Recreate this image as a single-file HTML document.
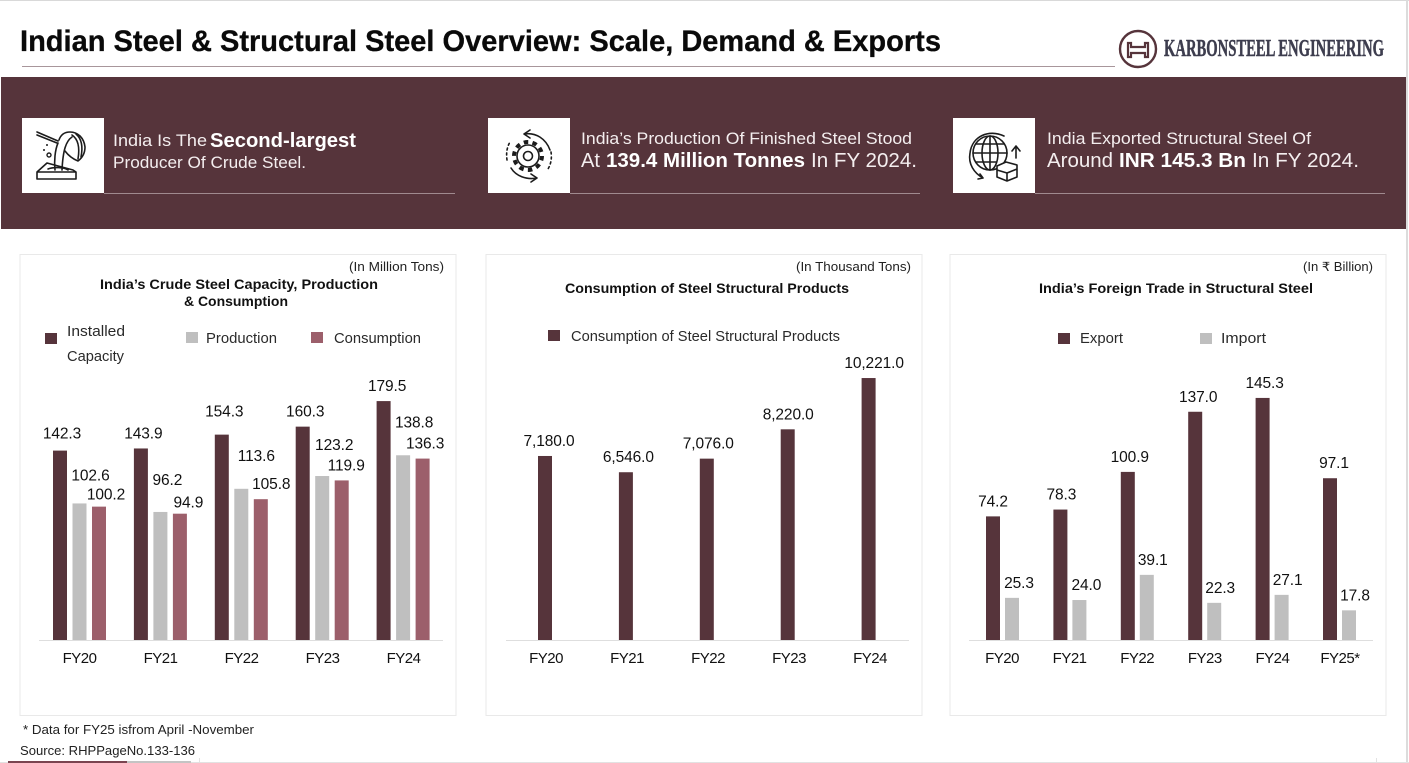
<!DOCTYPE html>
<html lang="en">
<head>
<meta charset="utf-8">
<title>Indian Steel &amp; Structural Steel Overview</title>
<style>
html,body{margin:0;padding:0;background:#fff;width:1409px;height:763px;overflow:hidden}
svg{display:block;font-family:"Liberation Sans",sans-serif}
.bn{fill:#f4eeef;font-size:17px}
.bb{fill:#fff;font-size:20px;font-weight:700}
.bl{fill:#f4eeef;font-size:20px}
.unit{fill:#222;font-size:12.5px}
.ct{fill:#111;font-size:14px;font-weight:700}
.lg{fill:#2a2a2a;font-size:15px}
.ic{fill:none;stroke:#1c1c1c;stroke-width:1.6;stroke-linecap:round;stroke-linejoin:round}
</style>
</head>
<body>
<svg id="page" xmlns="http://www.w3.org/2000/svg" width="1409" height="763" viewBox="0 0 1409 763">
  <rect x="0" y="0" width="1409" height="1" fill="#d9d9d9"/>
  <rect x="1406" y="0" width="2" height="763" fill="#dcdcdc"/>

  <text x="20" y="51" font-size="30" font-weight="700" fill="#0a0a0a" stroke="#0a0a0a" stroke-width="0.3" textLength="921" lengthAdjust="spacingAndGlyphs">Indian Steel &amp; Structural Steel Overview: Scale, Demand &amp; Exports</text>
  <rect x="22" y="66" width="1093" height="1" fill="#a8969b"/>

  <g>
    <circle cx="1138" cy="49" r="18" fill="none" stroke="#56343b" stroke-width="2.4"/>
    <path d="M1128 43h3v4h14v-4h3v14h-3v-4h-14v4h-3z" fill="#fff" stroke="#56343b" stroke-width="2.2"/>
    <text x="1164" y="56" font-family="'Liberation Serif',serif" font-size="24" font-weight="700" fill="#3d3d4e" stroke="#3d3d4e" stroke-width="0.5" textLength="220" lengthAdjust="spacingAndGlyphs">KARBONSTEEL ENGINEERING</text>
  </g>

  <rect x="1" y="77" width="1405" height="152" fill="#56343b"/>

  <g>
    <rect x="22" y="118" width="82" height="75" fill="#fff"/>
    <g class="ic">
      <path d="M37 132l21 9M37 135l20 8"/>
      <path d="M59 140c2-6 6-8 11-8 8 0 14 6 15 15 0 6-3 11-7 14-5-2-10-6-13-10"/>
      <path d="M72 135c6 4 8 12 6 24M76 134c6 5 7 13 5 23"/>
      <path d="M58 143c-3 7-4 18-3 27M72 137c-6 4-9 13-10 33"/>
      <path d="M37 172l10-9 26 7 3 2v7H37zM37 172h39M48 169c5-2 16-2 20 1"/>
    </g>
    <circle cx="49" cy="155" r="2" fill="none" stroke="#1c1c1c" stroke-width="1.4"/>
    <circle cx="44" cy="150" r="1" fill="#1c1c1c"/>
    <circle cx="47" cy="145" r="1" fill="#1c1c1c"/>
    <rect x="104" y="193" width="351" height="1" fill="#a08a8f"/>
    <text class="bn" x="113" y="146" textLength="94" lengthAdjust="spacingAndGlyphs">India Is The</text>
    <text class="bb" x="210" y="147" textLength="146" lengthAdjust="spacingAndGlyphs">Second-largest</text>
    <text class="bn" x="113" y="168" textLength="193" lengthAdjust="spacingAndGlyphs">Producer Of Crude Steel.</text>
  </g>

  <g>
    <rect x="488" y="118" width="82" height="75" fill="#fff"/>
    <g class="ic">
      <circle cx="528" cy="156" r="4.5"/>
      <circle cx="528" cy="156" r="11"/>
      <circle cx="528" cy="156" r="14" stroke-width="4" stroke-dasharray="4.5 4.3" stroke-linecap="butt"/>
      <path d="M524 134c12-2 22 5 26 16M511 168c5 8 15 12 26 10M524 134l6-4M524 134l6 4M537 178l-6-4M537 178l-6 4"/>
      <path d="M507 160c-1-7 0-13 3-18M551 152c1 6 0 12-3 17" stroke-dasharray="2 3"/>
    </g>
    <rect x="570" y="193" width="350" height="1" fill="#a08a8f"/>
    <text class="bn" x="581" y="144" textLength="331" lengthAdjust="spacingAndGlyphs">India’s Production Of Finished Steel Stood</text>
    <text class="bl" x="581" y="167" textLength="19" lengthAdjust="spacingAndGlyphs">At</text>
    <text class="bb" x="606" y="167" textLength="199" lengthAdjust="spacingAndGlyphs">139.4 Million Tonnes</text>
    <text class="bl" x="811" y="167" textLength="106" lengthAdjust="spacingAndGlyphs">In FY 2024.</text>
  </g>

  <g>
    <rect x="953" y="118" width="82" height="75" fill="#fff"/>
    <g class="ic">
      <circle cx="990" cy="153" r="17"/>
      <ellipse cx="990" cy="153" rx="8" ry="17"/>
      <path d="M990 136v34M973 153h34M976 144h28M976 162h20"/>
      <path d="M1004 136c-15-7-32 0-34 17-2 11 4 20 13 25M983 178l-3-4M983 178l-5 1"/>
      <path d="M997 166l9-4 11 3v12l-10 4-10-4zM997 170l10 3 10-4M1007 173v8" fill="#fff"/>
      <path d="M1016 158v-11M1012 151l4-5 4 5"/>
    </g>
    <rect x="1035" y="193" width="350" height="1" fill="#a08a8f"/>
    <text class="bn" x="1047" y="144" textLength="264" lengthAdjust="spacingAndGlyphs">India Exported Structural Steel Of</text>
    <text class="bl" x="1047" y="167" textLength="66" lengthAdjust="spacingAndGlyphs">Around</text>
    <text class="bb" x="1119" y="167" textLength="127" lengthAdjust="spacingAndGlyphs">INR 145.3 Bn</text>
    <text class="bl" x="1252" y="167" textLength="107" lengthAdjust="spacingAndGlyphs">In FY 2024.</text>
  </g>

  <rect x="20" y="254.5" width="436" height="461" fill="#fff" stroke="#e9e9e9"/>
  <rect x="486" y="254.5" width="436" height="461" fill="#fff" stroke="#e9e9e9"/>
  <rect x="950" y="254.5" width="436" height="461" fill="#fff" stroke="#e9e9e9"/>

  <text class="unit" x="349" y="271" textLength="95" lengthAdjust="spacingAndGlyphs">(In Million Tons)</text>
  <text class="ct" x="100" y="289" textLength="278" lengthAdjust="spacingAndGlyphs">India’s Crude Steel Capacity, Production</text>
  <text class="ct" x="184" y="306" textLength="104" lengthAdjust="spacingAndGlyphs">&amp; Consumption</text>
  <rect x="45" y="333" width="12" height="11" fill="#56343b"/>
  <text class="lg" x="67" y="336" textLength="58" lengthAdjust="spacingAndGlyphs">Installed</text>
  <text class="lg" x="67" y="361" textLength="57" lengthAdjust="spacingAndGlyphs">Capacity</text>
  <rect x="186" y="332" width="12" height="11" fill="#bfbfbf"/>
  <text class="lg" x="206" y="343" textLength="71" lengthAdjust="spacingAndGlyphs">Production</text>
  <rect x="311" y="332" width="12" height="11" fill="#9c5f6b"/>
  <text class="lg" x="334" y="343" textLength="87" lengthAdjust="spacingAndGlyphs">Consumption</text>

  <text class="unit" x="796" y="271" textLength="115" lengthAdjust="spacingAndGlyphs">(In Thousand Tons)</text>
  <text class="ct" x="565" y="293" textLength="284" lengthAdjust="spacingAndGlyphs">Consumption of Steel Structural Products</text>
  <rect x="548" y="330" width="12" height="11" fill="#56343b"/>
  <text class="lg" x="571" y="341" textLength="269" lengthAdjust="spacingAndGlyphs">Consumption of Steel Structural Products</text>

  <text class="unit" x="1303" y="271" textLength="70" lengthAdjust="spacingAndGlyphs">(In ₹ Billion)</text>
  <text class="ct" x="1039" y="293" textLength="274" lengthAdjust="spacingAndGlyphs">India’s Foreign Trade in Structural Steel</text>
  <rect x="1058" y="333" width="12" height="11" fill="#56343b"/>
  <text class="lg" x="1080" y="343" textLength="43" lengthAdjust="spacingAndGlyphs">Export</text>
  <rect x="1200" y="333" width="12" height="11" fill="#bfbfbf"/>
  <text class="lg" x="1221" y="343" textLength="45" lengthAdjust="spacingAndGlyphs">Import</text>

  <g id="marks"></g>

  <text x="23" y="734" font-size="12.5" fill="#222" textLength="231" lengthAdjust="spacingAndGlyphs">* Data for FY25 isfrom April -November</text>
  <text x="20" y="755" font-size="12.5" fill="#222" textLength="175" lengthAdjust="spacingAndGlyphs">Source: RHPPageNo.133-136</text>

  <rect x="0" y="762" width="1409" height="1" fill="#e2e2e2"/>
  <rect x="8" y="761" width="119" height="2" fill="#7a4450"/>
  <rect x="127" y="761" width="64" height="2" fill="#c4c4c4"/>
  <rect x="199" y="758" width="1" height="4" fill="#e2e2e2"/>
  <rect x="1376" y="758" width="1" height="4" fill="#e2e2e2"/>
</svg>

<script>
// Chart 1: crude steel capacity, production and consumption (million tons)
var capacityCategories = ['FY20', 'FY21', 'FY22', 'FY23', 'FY24'];
var installedCapacity = [142.3, 143.9, 154.3, 160.3, 179.5];
var crudeProduction = [102.6, 96.2, 113.6, 123.2, 138.8];
var crudeConsumption = [100.2, 94.9, 105.8, 119.9, 136.3];

// Chart 2: consumption of steel structural products (thousand tons)
var structuralCategories = ['FY20', 'FY21', 'FY22', 'FY23', 'FY24'];
var structuralConsumption = [7180.0, 6546.0, 7076.0, 8220.0, 10221.0];

// Chart 3: foreign trade in structural steel (billion rupees)
var tradeCategories = ['FY20', 'FY21', 'FY22', 'FY23', 'FY24', 'FY25*'];
var exportsValue = [74.2, 78.3, 100.9, 137.0, 145.3, 97.1];
var importsValue = [25.3, 24.0, 39.1, 22.3, 27.1, 17.8];

var SVGNS = 'http://www.w3.org/2000/svg';
var marks = document.getElementById('marks');
var BASE = 640;
var MAROON = '#56343b', GREY = '#bfbfbf', ROSE = '#9c5f6b';

function yAxis(scale) {
  return function (v) { return BASE - v * scale; };
}
function xAxis(start, step) {
  return function (i) { return start + i * step; };
}
function drawBar(name, cx, top, color) {
  var el = document.createElementNS(SVGNS, 'rect');
  el.setAttribute('x', cx - 7);
  el.setAttribute('y', top);
  el.setAttribute('width', 14);
  el.setAttribute('height', BASE - top);
  el.setAttribute('fill', color);
  
  
  marks.appendChild(el);
}
function drawText(name, cx, cy, str, size, spacing) {
  var el = document.createElementNS(SVGNS, 'text');
  el.setAttribute('x', cx);
  el.setAttribute('y', cy + 5);
  el.setAttribute('text-anchor', 'middle');
  el.setAttribute('font-size', size);
  el.setAttribute('letter-spacing', spacing);
  el.setAttribute('fill', '#111');
  el.textContent = str;
  
  
  marks.appendChild(el);
}
function drawAxisLine(name, x1, x2) {
  var el = document.createElementNS(SVGNS, 'rect');
  el.setAttribute('x', x1);
  el.setAttribute('y', BASE);
  el.setAttribute('width', x2 - x1);
  el.setAttribute('height', 1);
  el.setAttribute('fill', '#dedede');
  
  
  marks.appendChild(el);
}
function fmtOne(v) { return v.toFixed(1); }
function fmtThousands(v) {
  return v.toFixed(1).replace(/\B(?=(\d{3})+(?!\d))/g, ',');
}
// Series draws bars from values; label offsets mimic the hand-placed callouts in the source.
function drawSeries(prefix, values, x, offset, y, color, nudgeX, nudgeY, fmt) {
  values.forEach(function (v, i) {
    var cx = x(i) + offset;
    var top = y(v);
    drawBar(prefix + '-bar', cx, top, color);
    drawText(prefix + '-value-label', cx + nudgeX[i], top + nudgeY[i], fmt(v), 15.5, -0.1);
  });
}
function drawTicks(prefix, labels, centerOf) {
  labels.forEach(function (c, i) {
    drawText(prefix + '-x-tick', centerOf(i), 658, c, 15, -0.5);
  });
}

var y1 = yAxis(1.331), x1 = xAxis(60, 80.9);
var capDx = [2, 2.5, 2.5, 2.5, 3.5], capDy = [-17, -15, -23, -15, -15];
var prodDx = [11, 7, 15, 12, 11], prodDy = [-28, -32, -33, -31, -33];
var consDx = [7, 8.5, 10.5, 4.5, 2.5], consDy = [-12, -11, -15, -15, -15];
drawAxisLine('capacity-chart-x-axis', 39, 443);
drawSeries('installed-capacity', installedCapacity, x1, 0, y1, MAROON, capDx, capDy, fmtOne);
drawSeries('production', crudeProduction, x1, 19.5, y1, GREY, prodDx, prodDy, fmtOne);
drawSeries('consumption', crudeConsumption, x1, 39, y1, ROSE, consDx, consDy, fmtOne);
drawTicks('capacity-chart', capacityCategories, xAxis(79.5, 81));

var y2 = yAxis(0.02563), x2 = xAxis(545, 80.9);
var strDx = [4, 2.5, 1.5, 0.5, 5.5], strDy = [-15, -15, -15, -15, -15];
drawAxisLine('consumption-chart-x-axis', 506, 909);
drawSeries('structural-consumption', structuralConsumption, x2, 0, y2, MAROON, strDx, strDy, fmtThousands);
drawTicks('consumption-chart', structuralCategories, xAxis(546, 81));

var y3 = yAxis(1.666), x3 = xAxis(993, 67.4);
var expDx = [0, 1, 2, 3, 2, 4], expDy = [-15, -15, -15, -15, -15, -15];
var impDx = [7, 7, 6, 6, 6, 6], impDy = [-15, -15, -15, -15, -15, -15];
drawAxisLine('trade-chart-x-axis', 969, 1373);
drawSeries('export', exportsValue, x3, 0, y3, MAROON, expDx, expDy, fmtOne);
drawSeries('import', importsValue, x3, 19, y3, GREY, impDx, impDy, fmtOne);
drawTicks('trade-chart', tradeCategories, xAxis(1002, 67.6));
</script>
</body>
</html>
